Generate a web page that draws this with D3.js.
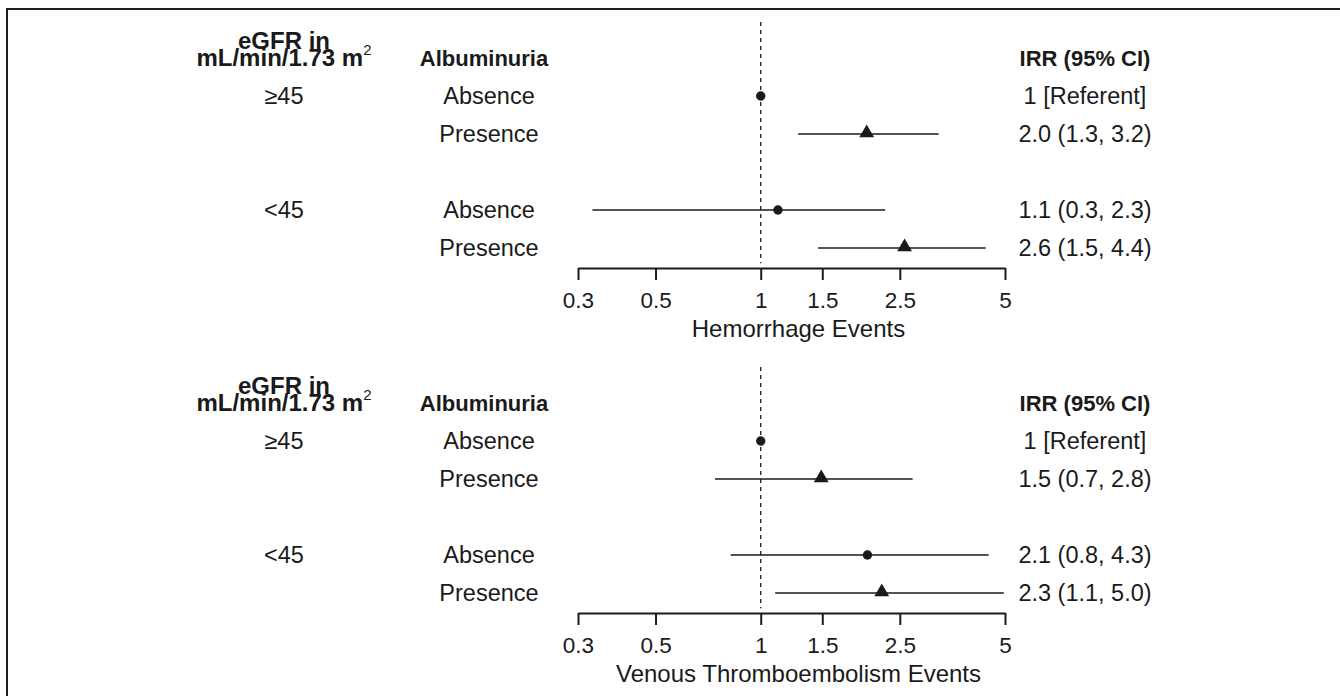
<!DOCTYPE html>
<html>
<head>
<meta charset="utf-8">
<script src="https://cdn.jsdelivr.net/npm/d3@7"></script>
<style>
  html, body { margin: 0; padding: 0; background: #fff; }
  svg { display: block; font-family: "Liberation Sans", Arial, Helvetica, sans-serif; }
</style>
</head>
<body>
<svg id="chart" width="1340" height="696"></svg>
<script>
// ---- data ----
const panelTitles = ["Hemorrhage Events", "Venous Thromboembolism Events"];
const egfrLabels = ["≥45", "", "<45", ""];
const albuminuria = ["Absence", "Presence", "Absence", "Presence"];
const markerShapes = ["circle", "triangle", "circle", "triangle"];
const rowSlots = [0, 1, 3, 4];

const hemEst = [1, 2.01, 1.12, 2.58];
const hemLo  = [null, 1.28, 0.33, 1.46];
const hemHi  = [null, 3.23, 2.27, 4.40];
const hemText = ["1 [Referent]", "2.0 (1.3, 3.2)", "1.1 (0.3, 2.3)", "2.6 (1.5, 4.4)"];

const vteEst = [1, 1.49, 2.02, 2.22];
const vteLo  = [null, 0.74, 0.82, 1.10];
const vteHi  = [null, 2.72, 4.49, 4.96];
const vteText = ["1 [Referent]", "1.5 (0.7, 2.8)", "2.1 (0.8, 4.3)", "2.3 (1.1, 5.0)"];

const tickValues = [0.3, 0.5, 1, 1.5, 2.5, 5];
const tickLabels = ["0.3", "0.5", "1", "1.5", "2.5", "5"];

const panels = [
  { title: panelTitles[0], est: hemEst, lo: hemLo, hi: hemHi, text: hemText, top: 96 },
  { title: panelTitles[1], est: vteEst, lo: vteLo, hi: vteHi, text: vteText, top: 441 }
];

// ---- drawing ----
const svg = d3.select("#chart");
const ink = "#1a1a1a";

// frame (top and left edges visible)
svg.append("rect").attr("x", 7).attr("y", 9).attr("width", 1400).attr("height", 800)
  .attr("fill", "none").attr("stroke", "#1f1f1f").attr("stroke-width", 2);

const x = d3.scaleLog().domain([0.3, 5]).range([578, 1005]);
const colEgfr = 284, colAlbHead = 484, colAlb = 489, colIRR = 1085;

panels.forEach(p => {
  const y = d3.scaleLinear().domain([0, 4]).range([p.top, p.top + 152]);
  const g = svg.append("g");

  // reference line at 1
  g.append("line")
    .attr("x1", x(1)).attr("x2", x(1))
    .attr("y1", y(-2) + 2).attr("y2", y(4.4))
    .attr("stroke", ink).attr("stroke-width", 1.3).attr("stroke-dasharray", "4,4");

  // headers
  const hEgfr = g.append("text").attr("text-anchor", "middle").attr("font-weight", "bold")
    .attr("font-size", 24).attr("fill", ink);
  hEgfr.append("tspan").attr("x", colEgfr).attr("y", y(-1) - 9).text("eGFR in");
  hEgfr.append("tspan").attr("x", colEgfr).attr("y", y(-1) + 8).text("mL/min/1.73 m");
  hEgfr.append("tspan").attr("font-size", 15).attr("font-weight", "normal").attr("dy", -11).text("2");

  g.append("text").attr("x", colAlbHead).attr("y", y(-1) + 8).attr("text-anchor", "middle")
    .attr("font-weight", "bold").attr("font-size", 22).attr("fill", ink).text("Albuminuria");
  g.append("text").attr("x", colIRR).attr("y", y(-1) + 8).attr("text-anchor", "middle")
    .attr("font-weight", "bold").attr("font-size", 22).attr("fill", ink).text("IRR (95% CI)");

  // row labels
  rowSlots.forEach((s, i) => {
    const yy = y(s) + 8;
    if (egfrLabels[i]) g.append("text").attr("x", colEgfr).attr("y", yy).attr("text-anchor", "middle")
      .attr("font-size", 23.5).attr("fill", ink).text(egfrLabels[i]);
    g.append("text").attr("x", colAlb).attr("y", yy).attr("text-anchor", "middle")
      .attr("font-size", 23.5).attr("fill", ink).text(albuminuria[i]);
    g.append("text").attr("x", colIRR).attr("y", yy).attr("text-anchor", "middle")
      .attr("font-size", 23.5).attr("fill", ink).text(p.text[i]);
  });

  // CI lines
  rowSlots.forEach((s, i) => {
    if (p.lo[i] == null) return;
    g.append("line").attr("x1", x(p.lo[i])).attr("x2", x(p.hi[i]))
      .attr("y1", y(s)).attr("y2", y(s)).attr("stroke", ink).attr("stroke-width", 1.3);
  });

  // markers
  const circ = d3.symbol().type(d3.symbolCircle).size(Math.PI * 4.7 * 4.7);
  const tri = d3.symbol().type(d3.symbolTriangle).size(95);
  rowSlots.forEach((s, i) => {
    g.append("path").attr("d", markerShapes[i] === "circle" ? circ() : tri())
      .attr("transform", `translate(${x(p.est[i])},${y(s) + (markerShapes[i] === "circle" ? 0 : -1)})`)
      .attr("fill", ink);
  });

  // axis
  const axisY = y(4.5) + 1;
  const axis = d3.axisBottom(x).tickValues(tickValues)
    .tickFormat((d, i) => tickLabels[i]).tickSize(12).tickSizeOuter(0).tickPadding(12);
  const ag = g.append("g").attr("transform", `translate(0,${axisY})`).call(axis);
  ag.select(".domain").attr("stroke", ink).attr("stroke-width", 2);
  ag.selectAll(".tick line").attr("stroke", ink).attr("stroke-width", 2);
  ag.selectAll(".tick text").attr("font-size", 22.5).attr("fill", ink)
    .attr("font-family", "'Liberation Sans', Arial, sans-serif");

  g.append("text").attr("x", (x(0.3) + x(5)) / 2 + 7).attr("y", axisY + 69).attr("text-anchor", "middle")
    .attr("font-size", 24).attr("fill", ink).text(p.title);
});
</script>
</body>
</html>
